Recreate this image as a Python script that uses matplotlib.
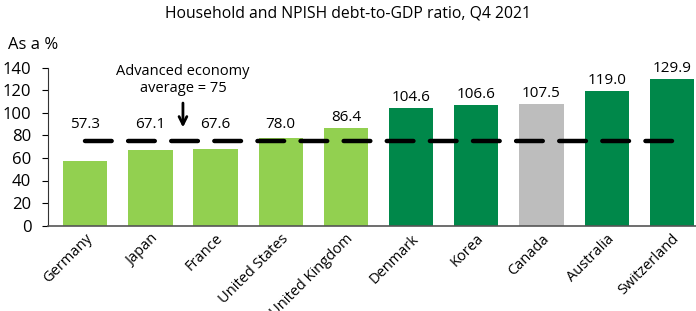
import matplotlib
matplotlib.use("Agg")
import matplotlib.pyplot as plt

countries = ["Germany", "Japan", "France", "United States", "United Kingdom",
             "Denmark", "Korea", "Canada", "Australia", "Switzerland"]
values = [57.3, 67.1, 67.6, 78.0, 86.4, 104.6, 106.6, 107.5, 119.0, 129.9]
groups = ["low", "low", "low", "low", "low", "high", "high", "canada", "high", "high"]
average = 75
yticks = [0, 20, 40, 60, 80, 100, 120, 140]

colors = {"low": "#92D050", "high": "#00884A", "canada": "#BDBDBD"}

plt.rcParams['font.family'] = ['Open Sans', 'DejaVu Sans']

fig = plt.figure(figsize=(6.96, 3.11), dpi=100)
ax = fig.add_axes([48/696, 1 - 225.7/311, 1 - 48/696, (225.7 - 67.5)/311])

x = list(range(len(countries)))
ax.bar(x, values, width=0.68, color=[colors[g] for g in groups], zorder=2)
ax.plot([x[0], x[-1]], [average, average], color="black", lw=3.2,
        dashes=(6.0, 3.7), dash_capstyle="round", solid_capstyle="round", zorder=3)

for xi, v in zip(x, values):
    ax.text(xi, max(v, 80.5) + 2.5, f"{v:.1f}", ha="center", va="bottom", fontsize=11, zorder=4)

ax.annotate("", xy=(1.5, 84.5), xytext=(1.5, 111),
            arrowprops=dict(arrowstyle="->", lw=2.0, color="black", mutation_scale=14))
ax.text(1.5, 129, "Advanced economy\naverage = 75", ha="center", va="center",
        fontsize=10.5, linespacing=1.15)

ax.set_xlim(-0.57, 9.37)
ax.set_ylim(0, 140)
ax.set_yticks(yticks)
ax.tick_params(axis="y", labelsize=12, length=4, width=0.8, direction="out", pad=8)
ax.set_xticks(x)
ax.set_xticklabels(countries, rotation=45, ha="right", rotation_mode="anchor", fontsize=10.5)
ax.tick_params(axis="x", length=0, pad=4)

for s in ["top", "right"]:
    ax.spines[s].set_visible(False)
ax.spines["left"].set_color("#333333")
ax.spines["bottom"].set_color("#555555")
ax.spines["bottom"].set_linewidth(1.2)

fig.text(348/696, 1 - 14/311, "Household and NPISH debt-to-GDP ratio, Q4 2021",
         ha="center", va="center", fontsize=11.3)
fig.text(8/696, 1 - 45/311, "As a %", ha="left", va="center", fontsize=12)

fig.savefig("out.png", dpi=100)
